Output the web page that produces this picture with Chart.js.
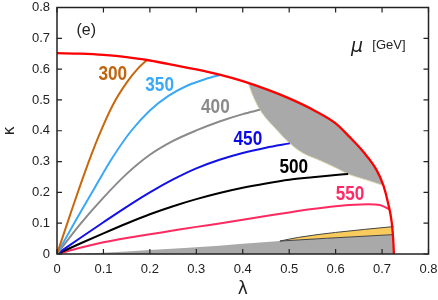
<!DOCTYPE html>
<html>
<head>
<meta charset="utf-8">
<script src="https://cdn.jsdelivr.net/npm/chart.js@4.4.1/dist/chart.umd.min.js"></script>
<style>
  html, body { margin: 0; background: #fff; }
</style>
</head>
<body>
<canvas id="chart" width="438" height="300"></canvas>
<script>
// outer boundary (red)
const redLambda = [0, 0.05, 0.1, 0.15, 0.2, 0.25, 0.3, 0.35, 0.4, 0.45, 0.5, 0.55, 0.6, 0.63, 0.66, 0.688, 0.703, 0.713, 0.721, 0.7245, 0.7255];
const redKappa = [0.652, 0.650, 0.646, 0.639, 0.628, 0.614, 0.599, 0.582, 0.561, 0.535, 0.505, 0.469, 0.424, 0.380, 0.331, 0.273, 0.222, 0.165, 0.10, 0.035, 0];

// mu contours [GeV]
const lam300 = [0, 0.03, 0.06, 0.09, 0.12, 0.15, 0.175, 0.194];
const kap300 = [0, 0.135, 0.265, 0.383, 0.483, 0.556, 0.603, 0.630];
const lam350 = [0, 0.04, 0.08, 0.12, 0.16, 0.2, 0.24, 0.28, 0.32, 0.354];
const kap350 = [0, 0.108, 0.212, 0.314, 0.400, 0.466, 0.513, 0.546, 0.568, 0.582];
const lam400 = [0, 0.05, 0.1, 0.15, 0.2, 0.25, 0.3, 0.35, 0.4, 0.437];
const kap400 = [0, 0.097, 0.183, 0.260, 0.322, 0.367, 0.401, 0.430, 0.454, 0.468];
const lam450 = [0, 0.05, 0.1, 0.15, 0.2, 0.25, 0.3, 0.35, 0.4, 0.45, 0.5015];
const kap450 = [0, 0.052, 0.103, 0.153, 0.200, 0.242, 0.278, 0.306, 0.328, 0.345, 0.359];
const lam500 = [0, 0.05, 0.1, 0.15, 0.2, 0.25, 0.3, 0.35, 0.4, 0.45, 0.5, 0.55, 0.6, 0.627];
const kap500 = [0, 0.034, 0.067, 0.099, 0.129, 0.155, 0.178, 0.198, 0.215, 0.229, 0.241, 0.249, 0.256, 0.260];
const lam550 = [0, 0.05, 0.1, 0.15, 0.2, 0.25, 0.3, 0.35, 0.4, 0.45, 0.5, 0.55, 0.6, 0.64, 0.67, 0.695, 0.7155];
const kap550 = [0, 0.020, 0.038, 0.052, 0.064, 0.076, 0.088, 0.099, 0.111, 0.123, 0.135, 0.146, 0.155, 0.160, 0.1615, 0.159, 0.145];

// shaded regions
const upperEdgeLambda = [0.412, 0.42, 0.437, 0.473, 0.5015, 0.53, 0.564, 0.60, 0.631, 0.667, 0.703];
const upperEdgeKappa = [0.554, 0.52, 0.468, 0.403, 0.359, 0.327, 0.305, 0.28, 0.257, 0.24, 0.222];
const lowGrayLambda = [0, 0.1, 0.2, 0.349, 0.437, 0.48, 0.58, 0.725];
const lowGrayKappa = [0, 0.004, 0.013, 0.027, 0.037, 0.042, 0.051, 0.063];
const yellowLambda = [0.48, 0.52, 0.60, 0.725];
const yellowKappa = [0.042, 0.054, 0.070, 0.089];

const axisTicks = [0, 0.1, 0.2, 0.3, 0.4, 0.5, 0.6, 0.7, 0.8];
const muLabels = ['300', '350', '400', '450', '500', '550'];

const pts = (xs, ys) => xs.map((x, i) => ({ x, y: ys[i] }));

// where the mu numbers sit (data coords) and their colour
const labelSpots = [
  { x: 0.120, y: 0.584, color: '#c0650f' },
  { x: 0.221, y: 0.547, color: '#3aa9f8' },
  { x: 0.341, y: 0.477, color: '#8a8a8a' },
  { x: 0.411, y: 0.373, color: '#0a0ae6' },
  { x: 0.510, y: 0.282, color: '#000000' },
  { x: 0.631, y: 0.193, color: '#ff2a66' },
];

const curve = (xs, ys, color, order, width = 2) => ({
  data: pts(xs, ys),
  borderColor: color,
  borderWidth: width,
  pointRadius: 0,
  fill: false,
  cubicInterpolationMode: 'monotone',
  order,
});

const frame = {
  id: 'frame',
  afterDraw(chart) {
    const { ctx, chartArea: a, scales: { x, y } } = chart;
    ctx.save();
    ctx.strokeStyle = '#222';
    ctx.lineWidth = 1.5;
    ctx.strokeRect(a.left, a.top, a.right - a.left, a.bottom - a.top);
    ctx.lineWidth = 1.2;
    ctx.beginPath();
    axisTicks.forEach(v => {
      const px = x.getPixelForValue(v), py = y.getPixelForValue(v);
      ctx.moveTo(px, a.bottom); ctx.lineTo(px, a.bottom - 5);
      ctx.moveTo(px, a.top); ctx.lineTo(px, a.top + 5);
      ctx.moveTo(a.left, py); ctx.lineTo(a.left + 5, py);
      ctx.moveTo(a.right, py); ctx.lineTo(a.right - 5, py);
    });
    ctx.stroke();

    // contour labels, bold and a bit condensed
    ctx.textAlign = 'center';
    ctx.textBaseline = 'middle';
    ctx.font = 'bold 20px "Liberation Sans", Arial, sans-serif';
    muLabels.forEach((t, i) => {
      const s = labelSpots[i];
      ctx.save();
      ctx.translate(x.getPixelForValue(s.x), y.getPixelForValue(s.y));
      ctx.scale(0.86, 1);
      ctx.fillStyle = s.color;
      ctx.fillText(t, 0, 0);
      ctx.restore();
    });

    ctx.fillStyle = '#222';
    ctx.textAlign = 'left';
    ctx.font = '16px "Liberation Sans", Arial, sans-serif';
    ctx.fillText('(e)', x.getPixelForValue(0.042), y.getPixelForValue(0.726));
    ctx.font = 'italic 19px "DejaVu Sans", sans-serif';
    ctx.fillText('μ', x.getPixelForValue(0.633), y.getPixelForValue(0.672));
    ctx.font = '13px "Liberation Sans", Arial, sans-serif';
    ctx.fillText('[GeV]', x.getPixelForValue(0.679), y.getPixelForValue(0.677));
    ctx.restore();
  }
};

const tickFont = { family: '"Liberation Sans", Arial, sans-serif', size: 13 };

new Chart(document.getElementById('chart'), {
  type: 'line',
  data: {
    datasets: [
      curve(redLambda, redKappa, '#ff0000', 0, 2.3),
      curve(lam300, kap300, '#c8680c', 1),
      curve(lam350, kap350, '#3aa8f5', 1),
      curve(lam400, kap400, '#8a8a8a', 1),
      curve(lam450, kap450, '#1212e8', 1),
      curve(lam500, kap500, '#000000', 1),
      curve(lam550, kap550, '#ff2a5f', 1),
      {
        data: pts(upperEdgeLambda, upperEdgeKappa),
        borderColor: '#ddd8b0', borderWidth: 1, pointRadius: 0,
        backgroundColor: '#a9a9a9', fill: 0,
        cubicInterpolationMode: 'monotone', order: 5,
      },
      {
        data: pts(lowGrayLambda, lowGrayKappa),
        borderWidth: 0, pointRadius: 0,
        backgroundColor: '#a9a9a9', fill: 'origin',
        cubicInterpolationMode: 'monotone', order: 7,
      },
      {
        data: pts(yellowLambda, yellowKappa),
        borderColor: '#444', borderWidth: 1, pointRadius: 0,
        backgroundColor: '#f9ca5c', fill: 8,
        cubicInterpolationMode: 'monotone', order: 6,
      },
      // dark edge under the yellow wedge
      {
        data: pts(lowGrayLambda.slice(5), lowGrayKappa.slice(5)),
        borderColor: '#444', borderWidth: 1, pointRadius: 0,
        fill: false, cubicInterpolationMode: 'monotone', order: 4,
      },
    ]
  },
  options: {
    responsive: false,
    animation: false,
    layout: { autoPadding: false, padding: { top: 7.5, right: 9.5, left: 0, bottom: 0 } },
    plugins: { legend: { display: false }, tooltip: { enabled: false } },
    scales: {
      x: {
        type: 'linear', min: 0, max: 0.8,
        // fixed band height; drop the label overhang so padding alone sets the plot edge
        afterFit: s => { s.height = 46; s.paddingLeft = 0; s.paddingRight = 0; },
        grid: { display: false, drawTicks: false },
        border: { display: false },
        ticks: { stepSize: 0.1, padding: 8, color: '#222', font: tickFont },
        title: { display: true, text: 'λ', color: '#222', font: { family: '"DejaVu Sans", sans-serif', size: 17 }, padding: 0 },
      },
      y: {
        type: 'linear', min: 0, max: 0.8,
        afterFit: s => { s.width = 57; s.paddingTop = 0; s.paddingBottom = 0; },
        grid: { display: false, drawTicks: false },
        border: { display: false },
        ticks: { stepSize: 0.1, padding: 7, color: '#222', font: tickFont },
        title: { display: true, text: 'κ', color: '#222', font: { family: '"DejaVu Sans", sans-serif', size: 16 }, padding: 0 },
      }
    }
  },
  plugins: [frame]
});
</script>
</body>
</html>
